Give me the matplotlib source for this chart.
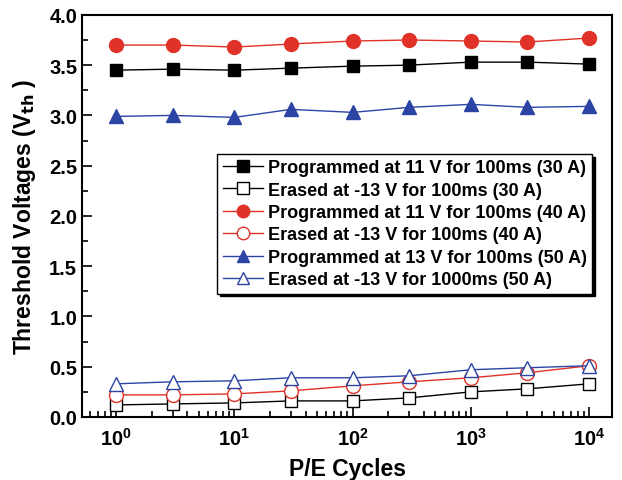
import matplotlib.pyplot as plt
import numpy as np

plt.rcParams['font.family'] = ['Liberation Sans', 'DejaVu Sans']
plt.rcParams['font.weight'] = 'bold'
plt.rcParams['mathtext.default'] = 'bf'

cycles = [1, 3, 10, 30, 100, 300, 1000, 3000, 10000]
prog_30 = [3.45, 3.46, 3.45, 3.47, 3.49, 3.50, 3.53, 3.53, 3.51]
erase_30 = [0.12, 0.13, 0.14, 0.16, 0.16, 0.19, 0.25, 0.28, 0.33]
prog_40 = [3.70, 3.70, 3.68, 3.71, 3.74, 3.75, 3.74, 3.73, 3.77]
erase_40 = [0.22, 0.22, 0.23, 0.26, 0.31, 0.35, 0.39, 0.44, 0.51]
prog_50 = [2.99, 3.00, 2.98, 3.06, 3.03, 3.08, 3.11, 3.08, 3.09]
erase_50 = [0.33, 0.35, 0.36, 0.39, 0.39, 0.41, 0.47, 0.49, 0.51]

labels = ['Programmed at 11 V for 100ms (30 A)',
          'Erased at -13 V for 100ms (30 A)',
          'Programmed at 11 V for 100ms (40 A)',
          'Erased at -13 V for 100ms (40 A)',
          'Programmed at 13 V for 100ms (50 A)',
          'Erased at -13 V for 1000ms (50 A)']

red = '#e03228'
blue = '#2c44a3'

fig = plt.figure(figsize=(6.22, 4.81), dpi=100)
ax = fig.add_axes([0.132, 0.131, 0.852, 0.836])

ax.plot(cycles, prog_30, '-s', color='black', lw=1, ms=9, mfc='black', label=labels[0])
ax.plot(cycles, erase_30, '-s', color='black', lw=1, ms=9, mfc='white', label=labels[1])
ax.plot(cycles, prog_40, '-o', color=red, lw=1, ms=10, mfc=red, label=labels[2])
ax.plot(cycles, erase_40, '-o', color=red, lw=1, ms=10, mfc='white', label=labels[3])
ax.plot(cycles, prog_50, '-^', color=blue, lw=1, ms=10, mfc=blue, label=labels[4])
ax.plot(cycles, erase_50, '-^', color=blue, lw=1, ms=10, mfc='white', label=labels[5])

ax.set_xscale('log')
ax.set_xlim(0.515, 15600)
ax.set_ylim(0, 4.0)
ax.set_yticks(np.arange(0, 4.01, 0.5))
ax.set_yticks(np.arange(0.25, 4.0, 0.5), minor=True)
ax.set_xticks([1, 10, 100, 1000, 10000])
ax.tick_params(which='both', direction='in', labelsize=14.5, width=1.2)
ax.tick_params(which='major', length=7)
ax.tick_params(which='minor', length=4)
ax.tick_params(axis='x', which='major', pad=7)
ax.tick_params(axis='y', which='both', right=False)
for lab in ax.get_xticklabels() + ax.get_yticklabels():
    lab.set_fontweight('bold')
for s in ax.spines.values():
    s.set_linewidth(1.5)

ax.set_xlabel('P/E Cycles', fontsize=16.5, fontweight='bold', labelpad=6)
ax.set_ylabel('Threshold Voltages (V$_{th}$ )', fontsize=16.5, fontweight='bold', labelpad=8)

leg = ax.legend(loc='upper right', bbox_to_anchor=(0.98, 0.677), fontsize=13,
                frameon=True, fancybox=False, edgecolor='black',
                shadow={'color': 'black', 'alpha': 1}, borderpad=0.3,
                labelspacing=0.3, handlelength=2.2, handletextpad=0.3)
leg.get_frame().set_linewidth(1.0)
for t in leg.get_texts():
    t.set_fontweight('bold')
for h in leg.legend_handles:
    h.set_markersize(9)

fig.savefig('out.png', dpi=100)
